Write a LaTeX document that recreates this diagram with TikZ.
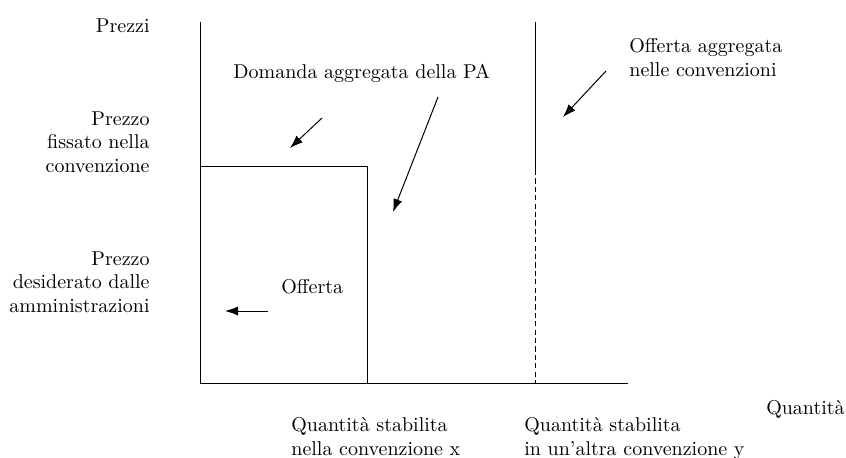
\documentclass[tikz,border=0pt]{standalone}
\usetikzlibrary{arrows.meta}
\begin{document}
\begin{tikzpicture}[x = 0.5pt, y = -0.5pt,
	every node/.style = {inner sep = 0pt, font = \fontsize{10}{11.8}\selectfont},
	asse/.style = {line width = 0.45pt},
	freccia/.style = {line width = 0.5pt, -{Latex[length = 6.5pt, width = 4.6pt]}}]
	
	\useasboundingbox (0, 0) rectangle (846, 457);
	
	\coordinate (o) at (200, 383);
	\coordinate (ytop) at (200, 22);
	\coordinate (xend) at (628, 383);
	\draw[asse] (ytop) to (o) to (xend);
	
	% offerta della convenzione x
	\coordinate (px) at (367, 166);
	\draw[asse] (200, 166) to (px) to (367, 383);
	
	% convenzione y
	\coordinate (ytop2) at (535, 22);
	\coordinate (ymid) at (535, 170);
	\coordinate (ybot) at (535, 383);
	\draw[asse] (ytop2) to (ymid);
	\draw[asse, dash pattern = on 2.6pt off 1.6pt] (ymid) to (ybot);
	
	\node[anchor = north east] (prezzi) at (150, 18) {Prezzi};
	\node[anchor = north east, align = right] (fissato) at (150, 111) {Prezzo\\fissato nella\\convenzione};
	\node[anchor = north east, align = right] (desiderato) at (150, 251) {Prezzo\\desiderato dalle\\amministrazioni};
	\node[anchor = north east] (quantita) at (845, 400) {Quantità};
	
	\node[anchor = north west] (domanda) at (233, 64) {Domanda aggregata della PA};
	\node[anchor = north west, align = left] (offaggr) at (629, 38) {Offerta aggregata\\nelle convenzioni};
	\node[anchor = north west] (offerta) at (281, 279) {Offerta};
	
	\node[anchor = north west, align = left] (qx) at (291, 417) {Quantità stabilita\\nella convenzione x};
	\node[anchor = north west, align = left] (qy) at (524, 417) {Quantità stabilita\\in un’altra convenzione y};
	
	\coordinate (a1) at (322, 118);
	\coordinate (b1) at (290, 148);
	\coordinate (a2) at (438, 97);
	\coordinate (b2) at (393, 212);
	\coordinate (a3) at (606, 71);
	\coordinate (b3) at (563, 117);
	\coordinate (a4) at (268, 311);
	\coordinate (b4) at (225, 311);
	
	\draw[freccia] (a1) to (b1);
	\draw[freccia] (a2) to (b2);
	\draw[freccia] (a3) to (b3);
	\draw[freccia] (a4) to (b4);
\end{tikzpicture}
\end{document}
